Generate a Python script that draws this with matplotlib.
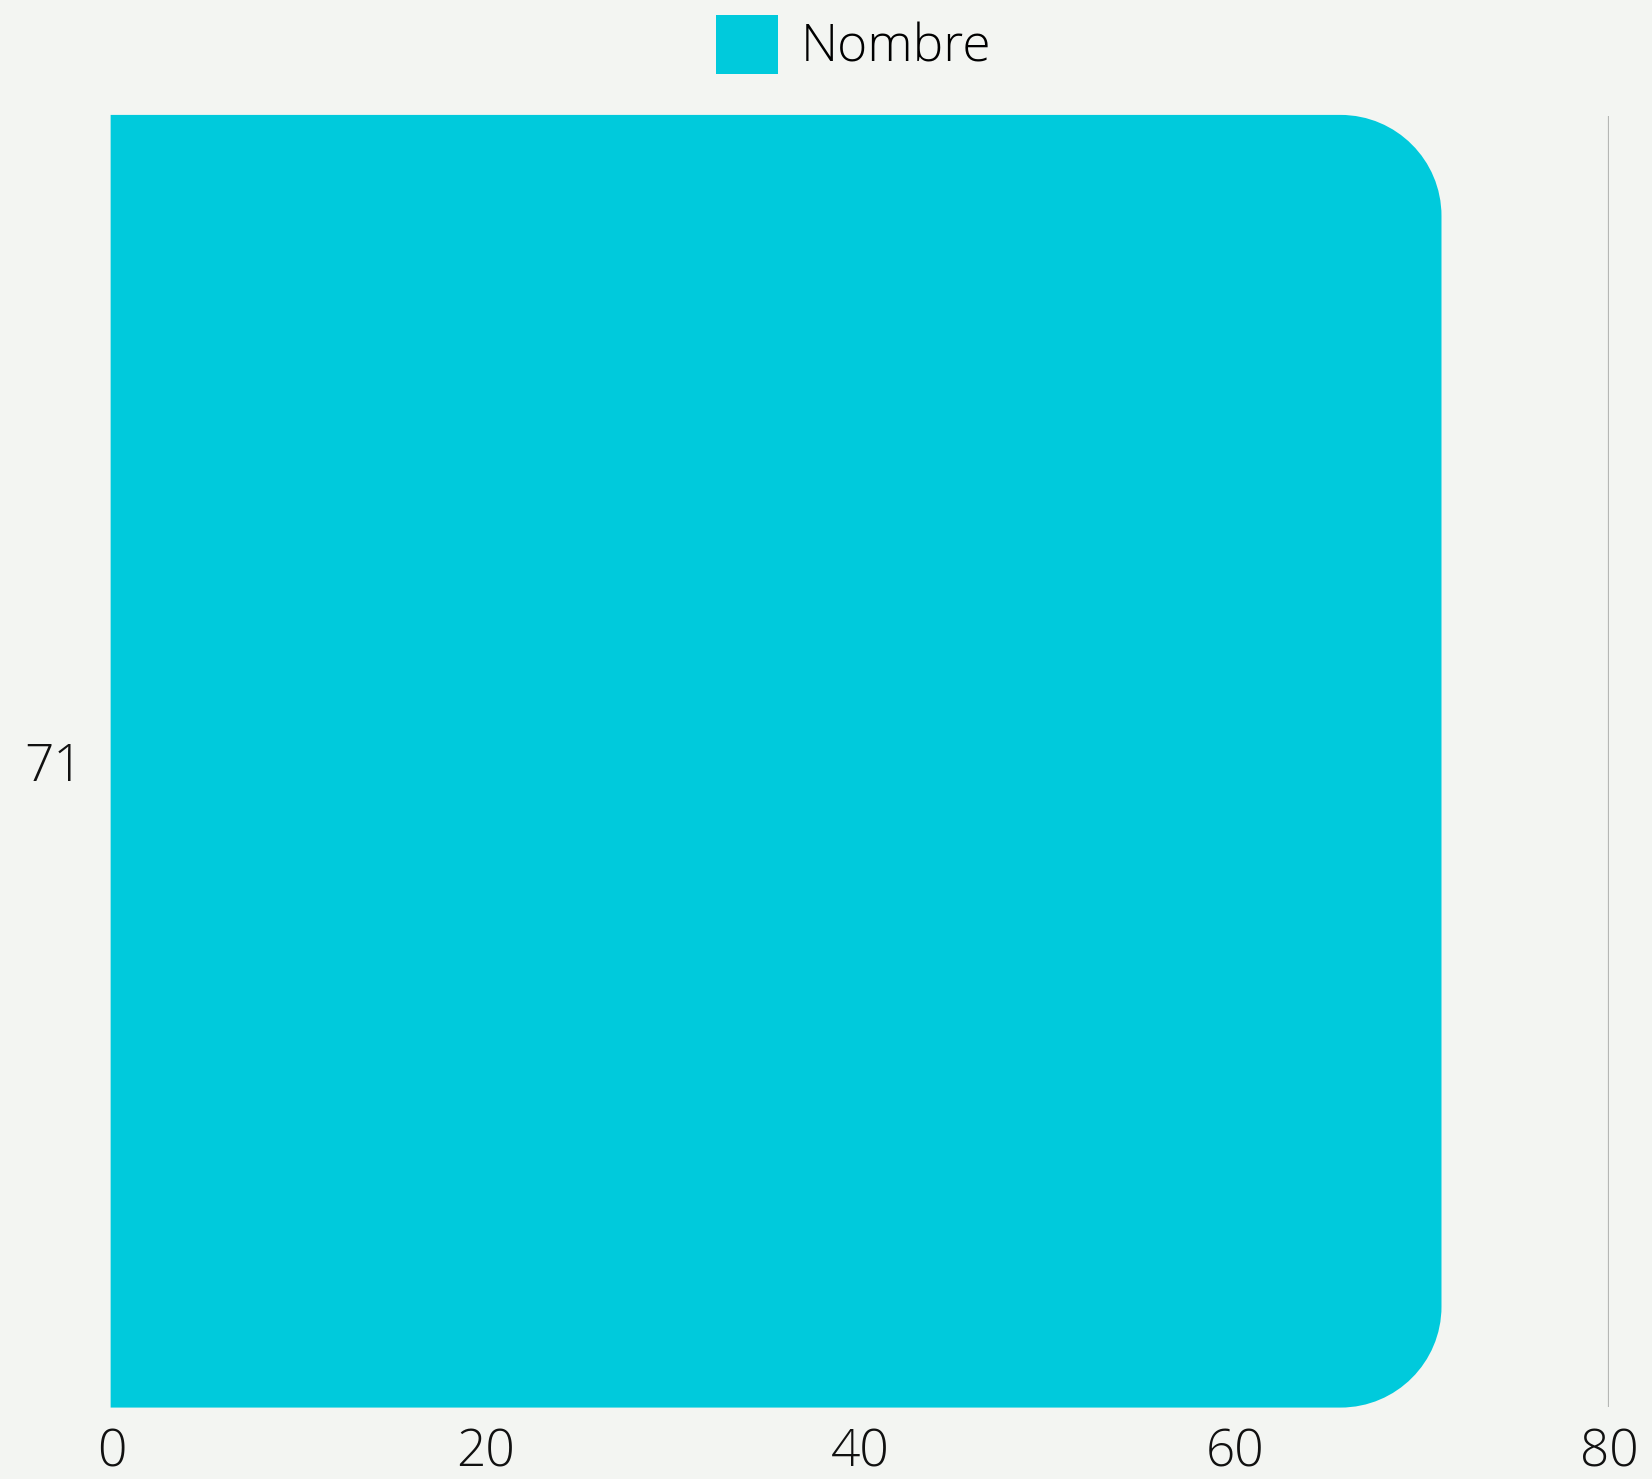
import numpy as np
import matplotlib
matplotlib.use("Agg")
import matplotlib.pyplot as plt
from matplotlib import font_manager
from matplotlib.path import Path
from matplotlib.patches import PathPatch, Patch

# data
categories = ["71"]
values = [71]
series_name = "Nombre"
x_ticks = [0, 20, 40, 60, 80]

BG = "#f3f5f2"
BAR = "#00cadc"
FS = 37
RADIUS_PX = 100

# use a light cut of Open Sans if one is installed
light = [f for f in font_manager.fontManager.ttflist
         if f.name.startswith("Open Sans") and isinstance(f.weight, int) and f.weight < 400]
FONT = ([light[0].name] if light else []) + ["Open Sans", "DejaVu Sans"]
plt.rcParams["font.family"] = FONT

fig = plt.figure(figsize=(16.52, 14.79), dpi=100, facecolor=BG)
ax = fig.add_axes([0.0676, 0.049, 0.9063, 0.8726], facecolor=BG)

bars = ax.barh(categories, values, height=1.0, color=BAR)
ax.set_xlim(0, 80)
ax.set_ylim(-0.5, 0.5)


def round_right(ax, rect, r_px):
    # swap a plain bar for one with rounded right-hand corners
    x, y = rect.get_x(), rect.get_y()
    w, h = rect.get_width(), rect.get_height()
    bbox = ax.get_window_extent()
    x0, x1 = ax.get_xlim()
    y0, y1 = ax.get_ylim()
    rx = r_px * (x1 - x0) / bbox.width
    ry = r_px * (y1 - y0) / bbox.height
    k = 0.5523
    xr, yb, yt = x + w, y, y + h
    verts = [(x, yb), (xr - rx, yb),
             (xr - rx + k * rx, yb), (xr, yb + ry - k * ry), (xr, yb + ry),
             (xr, yt - ry),
             (xr, yt - ry + k * ry), (xr - rx + k * rx, yt), (xr - rx, yt),
             (x, yt), (x, yb)]
    codes = [Path.MOVETO, Path.LINETO,
             Path.CURVE4, Path.CURVE4, Path.CURVE4,
             Path.LINETO,
             Path.CURVE4, Path.CURVE4, Path.CURVE4,
             Path.LINETO, Path.CLOSEPOLY]
    ax.add_patch(PathPatch(Path(verts, codes), facecolor=rect.get_facecolor(),
                           edgecolor=rect.get_facecolor(), linewidth=1.5,
                           clip_on=False, zorder=2))
    rect.remove()


for rect in list(bars):
    round_right(ax, rect, RADIUS_PX)

ax.set_xticks(x_ticks)
ax.grid(axis="x", color="#b5b7b5", linewidth=1.6, zorder=0, solid_capstyle="butt")
ax.set_axisbelow(True)
for s in ax.spines.values():
    s.set_visible(False)
ax.tick_params(axis="x", length=0, pad=15, labelsize=FS, labelcolor="#111111")
ax.tick_params(axis="y", length=0, pad=20.5, labelsize=FS, labelcolor="#111111")
for lab in ax.get_xticklabels() + ax.get_yticklabels():
    lab.set_fontweight("light")

leg = fig.legend(handles=[Patch(facecolor=BAR, edgecolor="none", label=series_name)],
                 loc="center", bbox_to_anchor=(0.517, 0.970), frameon=False,
                 prop={"family": FONT, "size": FS, "weight": "light"},
                 handlelength=1.2, handleheight=1.4, handletextpad=0.45)

fig.savefig("out.png", dpi=100, facecolor=BG)
